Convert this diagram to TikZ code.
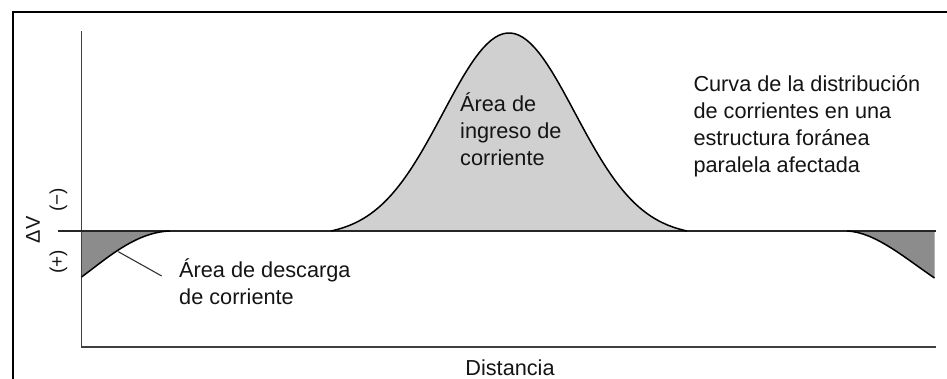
\documentclass[tikz,border=0pt]{standalone}
\usepackage{fontspec}
\setmainfont{Liberation Sans}
\definecolor{txt}{HTML}{141414}
\definecolor{axisc}{HTML}{404040}
\definecolor{lightfill}{HTML}{D0D0D0}
\definecolor{darkfill}{HTML}{8C8C8C}
\begin{document}
\begin{tikzpicture}[x=1pt,y=-1pt,
  lbl/.style={anchor=north west, inner sep=0pt, align=left, text=txt,
    font=\fontsize{21.7}{27}\selectfont},
  rotlbl/.style={rotate=90, inner sep=0pt, text=txt, font=\fontsize{20}{24}\selectfont},
  frameline/.style={line width=2pt, black},
  axisline/.style={line width=1.7pt, axisc},
  curveline/.style={line width=1.5pt, black},
  leader/.style={line width=1.1pt, black!80}]
\useasboundingbox (0,0) rectangle (947,379);
% outer frame
\coordinate (fTL) at (12.5,12.5);
\coordinate (fTR) at (947,12.5);
\coordinate (fBL) at (12.5,379);
\draw[frameline] (fTR) -- (fTL) -- (fBL);
% fills
\fill[lightfill] plot[domain=-2.697:2.697, samples=90, variable=\u]
  ({509+66*\u},{231-198*(exp(-\u*\u/2)-0.0263)/0.9737}) -- cycle;
\fill[darkfill] (81.5,231) -- (81.5,277) .. controls (105,260) and (135,232) .. (170,231) -- cycle;
\fill[darkfill] (847,231) .. controls (875,232) and (905,258) .. (934.5,278) -- (934.5,231) -- cycle;
% axes
\coordinate (yTop) at (81.5,31.5);
\coordinate (origin) at (81.5,346.7);
\coordinate (xEnd) at (935.5,346.7);
\draw[axisline] (yTop) -- (origin) -- (xEnd);
\coordinate (bL) at (58,231);
\coordinate (bR) at (935.5,231);
\draw[line width=1.6pt, black!85] (bL) -- (bR);
% curves
\draw[curveline] plot[domain=-2.697:2.697, samples=90, variable=\u]
  ({509+66*\u},{231-198*(exp(-\u*\u/2)-0.0263)/0.9737});
\draw[curveline] (81.5,277) .. controls (105,260) and (135,232) .. (170,231);
\draw[curveline] (847,231) .. controls (875,232) and (905,258) .. (934.5,278);
% labels
\node[rotlbl] (dv) at (33,230) {ΔV};
\node[rotlbl, font=\fontsize{19}{23}\selectfont] (neg) at (58.5,200) {(−)};
\node[rotlbl, font=\fontsize{19}{23}\selectfont] (pos) at (58.5,262) {(+)};
\node[lbl] (ing) at (460,110-18) {\rule{0pt}{18pt}Área de\\ingreso de\\corriente};
\node[lbl] (desc) at (179,276.7-18) {\rule{0pt}{18pt}Área de descarga\\de corriente};
\node[lbl] (cur) at (693.3,91.7-18) {\rule{0pt}{18pt}Curva de la distribución\\de corrientes en una\\estructura foránea\\paralela afectada};
\node[anchor=base, inner sep=0pt, text=txt, font=\fontsize{21.7}{27}\selectfont] (dist) at (510,375) {Distancia};
% leader
\coordinate (ld1) at (118.3,251.7);
\coordinate (ld2) at (161.7,276);
\draw[leader] (ld1) -- (ld2);
\end{tikzpicture}
\end{document}
